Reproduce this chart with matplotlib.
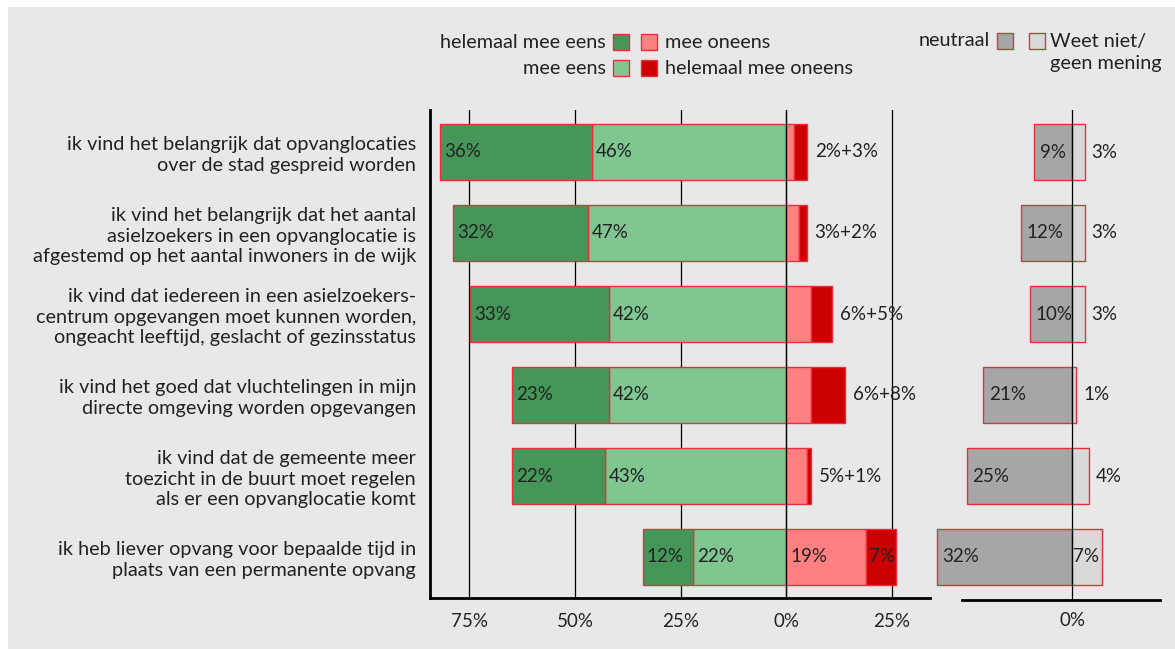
import matplotlib.pyplot as plt
from matplotlib.patches import Rectangle

plt.rcParams['font.family'] = ['Lato', 'DejaVu Sans']

# stellingen (van boven naar beneden)
stellingen = [
    "ik vind het belangrijk dat opvanglocaties\nover de stad gespreid worden",
    "ik vind het belangrijk dat het aantal\nasielzoekers in een opvanglocatie is\nafgestemd op het aantal inwoners in de wijk",
    "ik vind dat iedereen in een asielzoekers-\ncentrum opgevangen moet kunnen worden,\nongeacht leeftijd, geslacht of gezinsstatus",
    "ik vind het goed dat vluchtelingen in mijn\ndirecte omgeving worden opgevangen",
    "ik vind dat de gemeente meer\ntoezicht in de buurt moet regelen\nals er een opvanglocatie komt",
    "ik heb liever opvang voor bepaalde tijd in\nplaats van een permanente opvang",
]

helemaal_eens = [36, 32, 33, 23, 22, 12]
eens = [46, 47, 42, 42, 43, 22]
oneens = [2, 3, 6, 6, 5, 19]
helemaal_oneens = [3, 2, 5, 8, 1, 7]
neutraal = [9, 12, 10, 21, 25, 32]
weet_niet = [3, 3, 3, 1, 4, 7]

tick_pos = [-75, -50, -25, 0, 25]
tick_labels = ["75%", "50%", "25%", "0%", "25%"]

c_donkergroen = "#46965a"
c_lichtgroen = "#80c690"
c_roze = "#ff8080"
c_rood = "#cc0000"
c_grijs = "#a6a6a6"
c_lichtgrijs = "#d9d9d9"
c_rand = "#e8303c"
c_tekst = "#222222"
bg = "#e8e8e8"

fs_lab = 14.3
fs_pct = 13.5

W, H = 1175, 649
fig = plt.figure(figsize=(W / 100, H / 100), dpi=100, facecolor="white")
fig.patches.append(Rectangle((8 / W, 0), 1 - 8 / W, (H - 7) / H,
                             transform=fig.transFigure, facecolor=bg,
                             edgecolor="none", zorder=-10))

px = 4.22  # pixels per procent
zero1 = 786
top, bottom = 110, 598
ax = fig.add_axes([430 / W, (H - bottom) / H, 500 / W, (bottom - top) / H])
ax.set_facecolor("none")
ax.set_xlim(-(zero1 - 430) / px, (930 - zero1) / px)
ylim_top = -(152 - top) / 81
ylim_bot = 5 + (bottom - 557) / 81
ax.set_ylim(ylim_bot, ylim_top)

n = len(stellingen)
y = list(range(n))
h = 0.68

for t in tick_pos:
    ax.axvline(t, color="black", lw=0.9, zorder=0)

for i in range(n):
    he, e, o, ho = helemaal_eens[i], eens[i], oneens[i], helemaal_oneens[i]
    ax.barh(i, -e, height=h, color=c_lichtgroen, edgecolor=c_rand, lw=1, zorder=2)
    ax.barh(i, -he, left=-e, height=h, color=c_donkergroen, edgecolor=c_rand, lw=1, zorder=2)
    ax.barh(i, o, height=h, color=c_roze, edgecolor=c_rand, lw=1, zorder=2)
    ax.barh(i, ho, left=o, height=h, color=c_rood, edgecolor=c_rand, lw=1, zorder=2)
    ax.text(-(he + e) + 1.0, i, f"{he}%", va="center", ha="left", fontsize=fs_pct, color=c_tekst, zorder=3)
    ax.text(-e + 1.0, i, f"{e}%", va="center", ha="left", fontsize=fs_pct, color=c_tekst, zorder=3)
    if o >= 10:
        ax.text(1.0, i, f"{o}%", va="center", ha="left", fontsize=fs_pct, color=c_tekst, zorder=3)
        ax.text(o + 0.6, i, f"{ho}%", va="center", ha="left", fontsize=fs_pct, color=c_tekst, zorder=3)
    else:
        ax.text(o + ho + 1.8, i, f"{o}%+{ho}%", va="center", ha="left", fontsize=fs_pct, color=c_tekst, zorder=3)

ax.axvline(0, color="black", lw=0.9, zorder=2.5)

ax.set_yticks(y)
ax.set_yticklabels(stellingen, fontsize=fs_lab, color=c_tekst, linespacing=1.25)
ax.set_xticks(tick_pos)
ax.set_xticklabels(tick_labels, fontsize=fs_pct, color=c_tekst)
ax.tick_params(axis="both", length=0)
ax.tick_params(axis="y", pad=10)
ax.tick_params(axis="x", pad=11)
for s in ["top", "right"]:
    ax.spines[s].set_visible(False)
ax.spines["left"].set_linewidth(2)
ax.spines["bottom"].set_linewidth(2)

# tweede paneel: neutraal / weet niet
zero2 = 1072
ax2 = fig.add_axes([930 / W, (H - bottom - 2) / H, 245 / W, (bottom + 2 - top) / H])
ax2.set_facecolor("none")
ax2.set_xlim(-(zero2 - 930) / px, (1175 - zero2) / px)
ax2.set_ylim(ylim_bot + 2 / 81, ylim_top)
for i in range(n):
    ax2.barh(i, -neutraal[i], height=h, color=c_grijs, edgecolor=c_rand, lw=1, zorder=2)
    ax2.barh(i, weet_niet[i], height=h, color=c_lichtgrijs, edgecolor=c_rand, lw=1, zorder=2)
    ax2.text(-neutraal[i] + 1.3, i, f"{neutraal[i]}%", va="center", ha="left", fontsize=fs_pct, color=c_tekst, zorder=3)
    if weet_niet[i] >= 7:
        ax2.text(0.3, i, f"{weet_niet[i]}%", va="center", ha="left", fontsize=fs_pct, color=c_tekst, zorder=3)
    else:
        ax2.text(weet_niet[i] + 1.6, i, f"{weet_niet[i]}%", va="center", ha="left", fontsize=fs_pct, color=c_tekst, zorder=3)
ax2.axvline(0, color="black", lw=0.9, zorder=2.5)
ax2.set_yticks([])
ax2.set_xticks([0])
ax2.set_xticklabels(["0%"], fontsize=fs_pct, color=c_tekst)
ax2.tick_params(axis="x", length=0, pad=9)
for s in ["top", "right", "left"]:
    ax2.spines[s].set_visible(False)
ax2.spines["bottom"].set_linewidth(2)
ax2.spines["bottom"].set_bounds(-(zero2 - 962) / px, (1160 - zero2) / px)


# legenda
def vakje(x, y, kleur):
    fig.patches.append(Rectangle((x / W, (H - y - 8) / H), 16 / W, 16 / H,
                                 transform=fig.transFigure, facecolor=kleur,
                                 edgecolor=c_rand, lw=1))


def tekst(x, y, s, ha):
    fig.text(x / W, (H - y) / H, s, ha=ha, va="center", fontsize=fs_lab, color=c_tekst)


vakje(613, 42, c_donkergroen)
vakje(613, 68, c_lichtgroen)
vakje(641, 42, c_roze)
vakje(641, 68, c_rood)
tekst(606, 42, "helemaal mee eens", "right")
tekst(606, 68, "mee eens", "right")
tekst(665, 42, "mee oneens", "left")
tekst(665, 68, "helemaal mee oneens", "left")
vakje(997, 41, c_grijs)
vakje(1029, 41, c_lichtgrijs)
tekst(990, 41, "neutraal", "right")
tekst(1050, 41, "Weet niet/", "left")
tekst(1050, 64, "geen mening", "left")

fig.savefig("out.png", dpi=100, facecolor="white")
